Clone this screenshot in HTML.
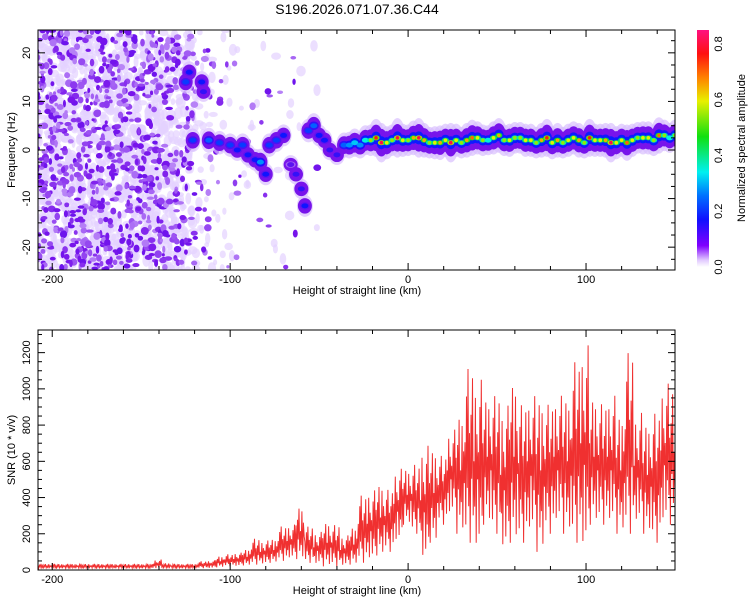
<!DOCTYPE html>
<html><head><meta charset="utf-8">
<style>
body{margin:0;background:#fff;}
svg{display:block;font-family:"Liberation Sans",sans-serif;}
</style></head><body>
<svg id="chart" width="750" height="600" viewBox="0 0 750 600" xmlns="http://www.w3.org/2000/svg">
<defs>
<linearGradient id="cbar" x1="0" y1="1" x2="0" y2="0">
<stop offset="0" stop-color="#ffffff"/>
<stop offset="0.03" stop-color="#e0c8ff"/>
<stop offset="0.09" stop-color="#8000ff"/>
<stop offset="0.2" stop-color="#1010ff"/>
<stop offset="0.3" stop-color="#0070ff"/>
<stop offset="0.4" stop-color="#00f0f0"/>
<stop offset="0.55" stop-color="#10e010"/>
<stop offset="0.7" stop-color="#e8f000"/>
<stop offset="0.8" stop-color="#ff8000"/>
<stop offset="0.9" stop-color="#ff1010"/>
<stop offset="1" stop-color="#ff1080"/>
</linearGradient>
<clipPath id="clipTop"><rect x="38" y="30" width="637" height="240"/></clipPath>
<clipPath id="clipBot"><rect x="38" y="330" width="637" height="240"/></clipPath>
</defs>
<text x="357" y="14" font-size="14" text-anchor="middle">S196.2026.071.07.36.C44</text>
<g id="topMarks" clip-path="url(#clipTop)"></g>
<g id="topAxes"></g>
<g id="botMarks" clip-path="url(#clipBot)"></g>
<g id="botAxes"></g>
<g id="cbarG"></g>
</svg>
<script>
// ---- data ----
const ridgeKm = [-125,-123,-116,-115,-121,-112,-106,-100,-96,-93,-90,-86,-83,-80,-78,-74,-70,-66,-63,-60,-58,-56,-53,-50,-47,-44,-40,-36,-33,-30,-27,-24,-21,-18,-15,-12,-9,-6,-3,0,3,6,9,12,15,18,21,24,27,30,33,36,39,42,45,48,51,54,57,60,63,66,69,72,75,78,81,84,87,90,93,96,99,102,105,108,111,114,117,120,123,126,129,132,135,138,141,144,147,150];
const ridgeHz  = [14,16,14,12,2,2,1.5,1,0,1,-1,-2,-2.5,-5,1,2,3,-3,-5,-8,-11.5,4,5,3,2,0,-1,1,1,1.5,1,2,2,2.5,1.5,1.5,2,2.5,2,2,2.5,2.5,2,1.5,1.5,1.5,2,1.5,2,1.5,2,2.5,2.5,2,2,2.5,3,2,2,2.5,2.5,2,2,1.5,2,2.5,1.5,2,1.5,2,2.5,2,1.5,2.5,2,2,2,1.5,1.5,2,1.5,2,2.5,2.5,2.5,2,3,3,2.5,3];
const ridgeAmp = [0.3,0.25,0.25,0.2,0.3,0.35,0.3,0.3,0.25,0.3,0.25,0.25,0.4,0.25,0.3,0.3,0.25,0.15,0.2,0.2,0.25,0.3,0.35,0.25,0.25,0.2,0.2,0.35,0.4,0.45,0.4,0.5,0.55,0.75,0.8,0.6,0.55,0.8,0.6,0.55,0.65,0.8,0.65,0.55,0.6,0.65,0.6,0.8,0.6,0.55,0.65,0.7,0.6,0.55,0.5,0.6,0.65,0.55,0.6,0.55,0.55,0.6,0.6,0.55,0.65,0.75,0.6,0.65,0.55,0.6,0.6,0.65,0.55,0.75,0.6,0.6,0.65,0.8,0.6,0.6,0.7,0.6,0.55,0.6,0.6,0.55,0.7,0.55,0.5,0.55];
const noiseBinKm = [-205,-195,-185,-175,-165,-155,-145,-135,-125,-115,-105,-95,-85,-75,-65,-55];
const noiseDensity = [55,55,55,55,55,55,55,50,30,12,5,3,2,2,2,1];
const snrBinKm = [];
for (let k=-208;k<150;k+=5) snrBinKm.push(k);
const snrLow  = [8,8,8,8,8,8,8,8,8,8,8,8,8,8,8,8,8,8, 10,10,15,20,20,25,30,30,40,50,60,60,40,30,20,20,20,30,40,50,80,100,150,250,200,50,150,250,300,200,150,100,250,200,100,150,150,200,100,200,250,200,150,100,250,250,250,200,200,250,200,150,250,250];
const snrHigh = [35,35,35,35,35,35,35,35,35,35,35,35,35,60,40,35,35,35, 50,55,80,90,100,120,180,170,180,250,260,370,250,220,280,260,200,250,430,460,500,460,580,580,600,720,700,650,800,900,1160,1100,1000,1000,950,1100,950,1000,1000,950,1000,1000,1200,1300,1000,950,1000,900,1250,900,850,900,1070,1050];
const xTicks = [-200,-100,0,100];
const yTopTicks = [-20,-10,0,10,20];
const yBotTicks = [0,200,400,600,800,1000,1200];
const cbTicks = [0.0,0.2,0.4,0.6,0.8];

// ---- scales ----
const NS="http://www.w3.org/2000/svg";
const X0=38,X1=675,XMIN=-208,XMAX=150;
const sx = v => X0+(v-XMIN)/(XMAX-XMIN)*(X1-X0);
const TY0=30,TY1=270,FMIN=-24.7,FMAX=24.7;
const syT = v => TY1-(v-FMIN)/(FMAX-FMIN)*(TY1-TY0);
const BY0=330,BY1=570,SMIN=0,SMAX=1325;
const syB = v => BY1-(v-SMIN)/(SMAX-SMIN)*(BY1-BY0);
const CB0=267,CB1=30,CMAX=0.85;
const syC = v => CB0-v/CMAX*(CB0-CB1);
function mk(tag,attrs,parent){const e=document.createElementNS(NS,tag);for(const k in attrs)e.setAttribute(k,attrs[k]);parent.appendChild(e);return e;}
function cmap(a){
  const st=[[0,[255,255,255]],[0.03,[228,210,255]],[0.08,[120,20,235]],[0.17,[16,16,255]],[0.26,[0,112,255]],[0.34,[0,240,240]],[0.47,[16,224,16]],[0.6,[232,240,0]],[0.68,[255,128,0]],[0.76,[255,16,16]],[0.85,[255,16,128]]];
  for(let i=1;i<st.length;i++){if(a<=st[i][0]){const t=(a-st[i-1][0])/(st[i][0]-st[i-1][0]);const c=st[i-1][1].map((v,j)=>Math.round(v+(st[i][1][j]-v)*t));return `rgb(${c})`;}}
  return 'rgb(255,16,128)';
}
// deterministic texture hash (visual texture only)
function h(i){const s=Math.sin(i*127.1+311.7)*43758.5453;return s-Math.floor(s);}

// ---- top heatmap ----
const tm=document.getElementById('topMarks');
const bg=mk('rect',{x:X0,y:TY0,width:X1-X0,height:TY1-TY0,fill:'#fff'},tm);


let idx=0;
noiseBinKm.forEach((km,bi)=>{
  for(let n=0;n<noiseDensity[bi]*3;n++){
    idx++;
    const x=km-5+h(idx)*10, f=FMIN+h(idx+999)*(FMAX-FMIN);
    const e=mk('ellipse',{cx:sx(x),cy:syT(f),rx:2+h(idx+77)*3,ry:2.5+h(idx+88)*3.5,fill:cmap(0.03),opacity:0.7},tm);
    
    
  }
});
idx=5000;
noiseBinKm.forEach((km,bi)=>{
  for(let n=0;n<noiseDensity[bi]*1.8;n++){
    idx++;
    const x=km-5+h(idx)*10, f=FMIN+h(idx+999)*(FMAX-FMIN), a=0.05+h(idx+555)*0.04;
    const e=mk('ellipse',{cx:sx(x),cy:syT(f),rx:1.5+h(idx+77)*2.5,ry:1.5+h(idx+88)*2.5,fill:cmap(a)},tm);
    
    
  }
});
// ridge halo layers
ridgeKm.forEach((km,i)=>{
  const cx=sx(km),cy=syT(ridgeHz[i]),a=ridgeAmp[i];
  const halo=mk('ellipse',{cx,cy,rx:8,ry:7+a*16,fill:cmap(0.035),opacity:0.7},tm);
  
  
});
ridgeKm.forEach((km,i)=>{
  const cx=sx(km),cy=syT(ridgeHz[i]),a=ridgeAmp[i];
  const p=mk('ellipse',{cx,cy,rx:7,ry:5+a*11,fill:cmap(0.08)},tm);
  
  
});
ridgeKm.forEach((km,i)=>{
  const cx=sx(km),cy=syT(ridgeHz[i]),a=ridgeAmp[i];
  const b=mk('ellipse',{cx,cy,rx:5,ry:2.5+a*5,fill:cmap(Math.min(a*0.4,0.18))},tm);
  
  
});
ridgeKm.forEach((km,i)=>{
  const cx=sx(km),cy=syT(ridgeHz[i]),a=ridgeAmp[i];
  const c=mk('ellipse',{cx,cy,rx:3.5,ry:2.5,fill:cmap(a*0.7)},tm);
  
  
  if(a>=0.55){const d=mk('circle',{cx,cy,r:1.8,fill:cmap(a)},tm);
    
    }
});

// ---- axes helper ----
function axes(gid,y0,y1,sy,yMajor,yMinorStep,yMin,yMax,yTitle,frameName){
  const g=document.getElementById(gid);
  const fr=mk('rect',{x:X0,y:y0,width:X1-X0,height:y1-y0,fill:'none',stroke:'#000','stroke-width':1},g);
  
  
  for(let v=-200;v<=XMAX;v+=20){const x=sx(v),L=(v%100===0)?7:4;
    mk('line',{x1:x,y1:y1,x2:x,y2:y1-L,stroke:'#000'},g);mk('line',{x1:x,y1:y0,x2:x,y2:y0+L,stroke:'#000'},g);}
  xTicks.forEach(v=>{const t=mk('text',{x:sx(v),y:y1+13,'font-size':11,'text-anchor':'middle'},g);t.textContent=v;
    });
  for(let v=Math.ceil(yMin/yMinorStep)*yMinorStep;v<=yMax;v+=yMinorStep){const y=sy(v),L=yMajor.includes(v)?7:4;
    mk('line',{x1:X0,y1:y,x2:X0+L,y2:y,stroke:'#000'},g);mk('line',{x1:X1,y1:y,x2:X1-L,y2:y,stroke:'#000'},g);}
  yMajor.forEach(v=>{const y=sy(v);const t=mk('text',{x:0,y:0,'font-size':11,'text-anchor':'middle',transform:`translate(30,${y}) rotate(-90)`},g);t.textContent=v;
    });
  const xt=mk('text',{x:357,y:y1+24,'font-size':11,'text-anchor':'middle'},g);xt.textContent='Height of straight line (km)';
  
  const yt=mk('text',{x:0,y:0,'font-size':11,'text-anchor':'middle',transform:`translate(15,${(y0+y1)/2}) rotate(-90)`},g);yt.textContent=yTitle;
  
}
axes('topAxes',TY0,TY1,syT,yTopTicks,2.5,-24,24,'Frequency (Hz)','top-plot-frame');

// ---- bottom SNR line ----
const bm=document.getElementById('botMarks');
const frac=[0.55,0.1,0.8,0.3,0.95,0.2,0.6,0.0,0.7,0.35,0.9,0.15,0.5,0.25,0.85,0.05,0.65,0.4];
let pts=[];let k=0;
snrBinKm.forEach((km,i)=>{
  const n=12;
  for(let j=0;j<n;j++){const x=km+j*5/n;const f=frac[(k++)%frac.length];
    const v=snrLow[i]+(snrHigh[i]-snrLow[i])*f;
    pts.push(sx(x).toFixed(1)+','+syB(v).toFixed(1));}
});
const ln=mk('polyline',{points:pts.join(' '),fill:'none',stroke:'#f03030','stroke-width':1},bm);


axes('botAxes',BY0,BY1,syB,yBotTicks,50,0,1300,'SNR (10 * v/v)','bottom-plot-frame');

// ---- colorbar ----
const cg=document.getElementById('cbarG');
const cb=mk('rect',{x:697,y:CB1,width:12,height:CB0-CB1,fill:'url(#cbar)'},cg);


cbTicks.forEach(v=>{const t=mk('text',{x:0,y:0,'font-size':11,'text-anchor':'middle',transform:`translate(722,${syC(v)}) rotate(-90)`},cg);
  t.textContent=v.toFixed(1);});
const ct=mk('text',{x:0,y:0,'font-size':11,'text-anchor':'middle',transform:`translate(745,148) rotate(-90)`},cg);
ct.textContent='Normalized spectral amplitude';


</script>
</body></html>
